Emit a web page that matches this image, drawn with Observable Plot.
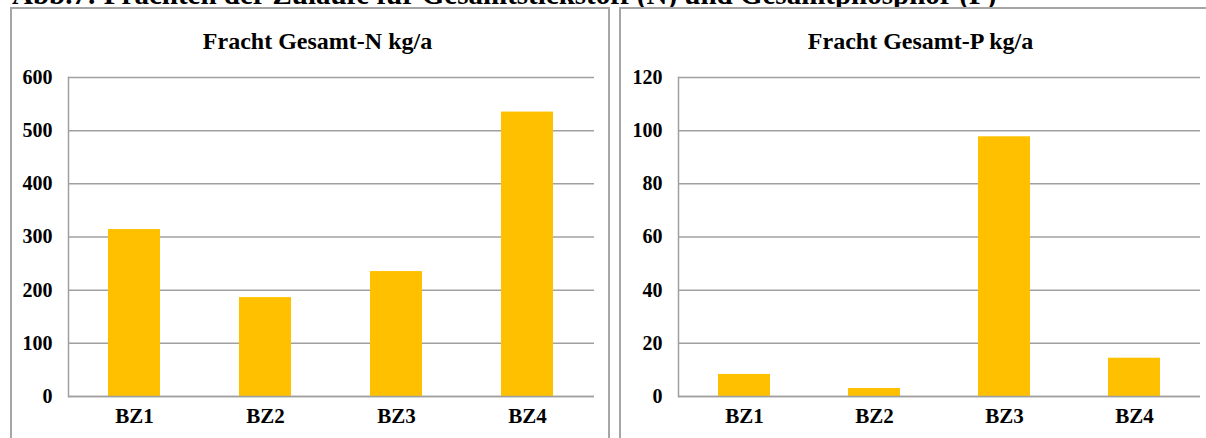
<!DOCTYPE html>
<html>
<head>
<meta charset="utf-8">
<script src="https://cdn.jsdelivr.net/npm/d3@7"></script>
<script src="https://cdn.jsdelivr.net/npm/@observablehq/plot@0.6"></script>
<style>
  html, body { margin: 0; padding: 0; background: #fff; overflow: hidden; }
  #root { position: relative; width: 1206px; height: 438px; overflow: hidden; font-family: "Liberation Serif", "Times New Roman", serif; }
  #caption { position: absolute; left: 12px; top: -20px; font-weight: bold; font-size: 29px; white-space: nowrap; color: #000; line-height: 29px; }
  .panel { position: absolute; top: 7px; border: 2px solid #a6a6a6; background: #fff; height: 460px; }
  #panelN { left: 10px; width: 596px; }
  #panelP { left: 619px; width: 590px; }
</style>
</head>
<body>
<div id="root">
  <div id="caption">Abb.7: Frachten der Zuläufe für Gesamtstickstoff (N) und Gesamtphosphor (P)</div>
  <div class="panel" id="panelN"></div>
  <div class="panel" id="panelP"></div>
</div>
<script>
const categories = ["BZ1", "BZ2", "BZ3", "BZ4"];
const nitrogen = [314, 186, 235, 535];
const phosphorus = [8.3, 3, 97.7, 14.4];
const nTicks = [0, 100, 200, 300, 400, 500, 600];
const pTicks = [0, 20, 40, 60, 80, 100, 120];
const titles = ["Fracht Gesamt-N kg/a", "Fracht Gesamt-P kg/a"];

function chart(values, ticks, title, opts) {
  const data = categories.map((c, i) => ({cat: c, value: values[i]}));
  return Plot.plot({
    width: opts.width,
    height: 430,
    marginLeft: opts.marginLeft,
    marginRight: opts.marginRight,
    marginTop: 68,
    marginBottom: 43,
    style: {fontFamily: "Liberation Serif, Times New Roman, serif", fontWeight: "bold", fontSize: "20px", color: "#000", background: "#fff"},
    x: {domain: categories, paddingInner: 0.6, paddingOuter: 0.3, label: null},
    y: {domain: [ticks[0], ticks[ticks.length - 1]], ticks: ticks, label: null},
    marks: [
      Plot.gridY(ticks, {stroke: "#a0a0a0", strokeOpacity: 1, strokeWidth: 1.5}),
      Plot.frame({anchor: "left", stroke: "#a0a0a0", strokeWidth: 1.5}),
      Plot.barY(data, {x: "cat", y: "value", fill: "#FFC000"}),
      Plot.ruleY([0], {stroke: "#a0a0a0", strokeWidth: 1.5}),
      Plot.axisY(ticks, {tickSize: 0, tickPadding: 16, fontSize: 20, fontWeight: "bold"}),
      Plot.axisX({tickSize: 0, tickPadding: 12, fontSize: 21, fontWeight: "bold"}),
      Plot.text([title], {frameAnchor: "top", dy: -46, dx: opts.titleDx, fontSize: 24, fontWeight: "bold", fill: "#000"})
    ]
  });
}

document.getElementById("panelN").appendChild(
  chart(nitrogen, nTicks, titles[0], {width: 596, marginLeft: 56, marginRight: 14, titleDx: -14})
);
document.getElementById("panelP").appendChild(
  chart(phosphorus, pTicks, titles[1], {width: 590, marginLeft: 57, marginRight: 11, titleDx: -19})
);
</script>
</body>
</html>
